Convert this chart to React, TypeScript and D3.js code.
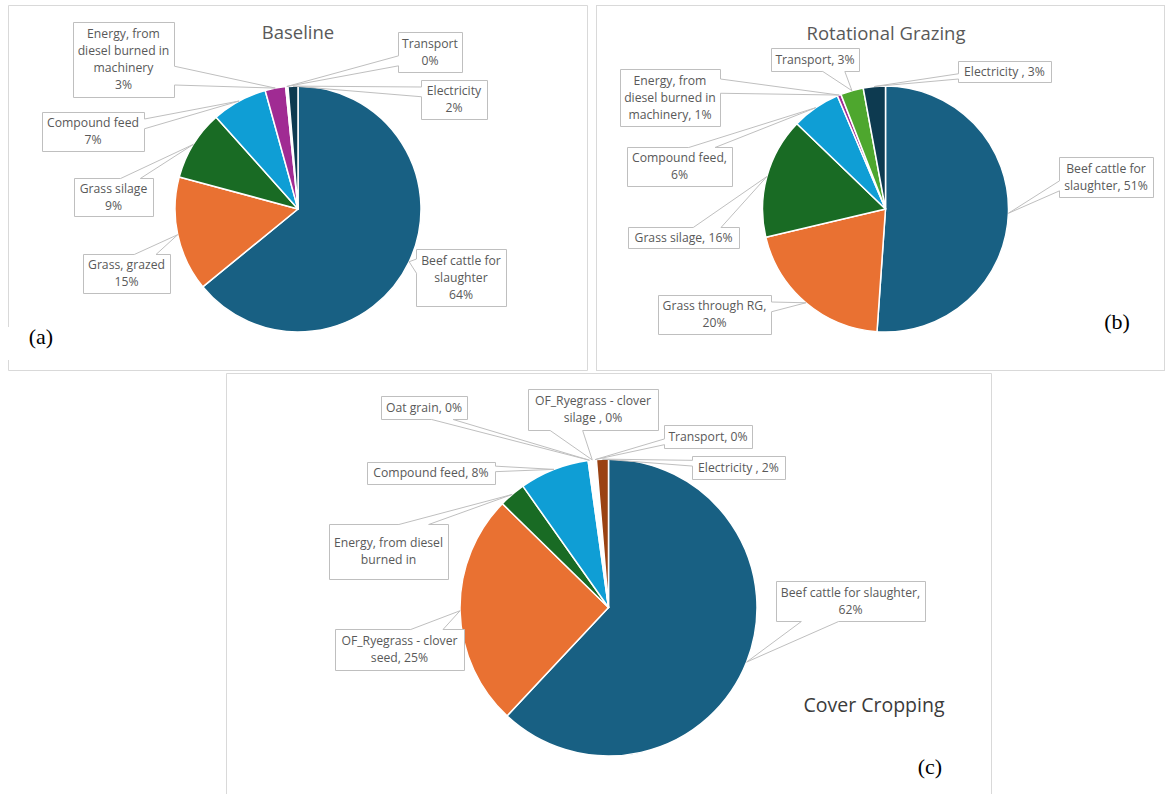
import React from "react";
import * as d3 from "d3";

// ---------------- Data ----------------
const baselineCategories = [
  "Beef cattle for slaughter",
  "Grass, grazed",
  "Grass silage",
  "Compound feed",
  "Energy, from diesel burned in machinery",
  "Transport",
  "Electricity",
];
const baselineValues = [64.1, 15.1, 9.2, 7.3, 2.7, 0.3, 1.3];
const baselinePercents = ["64%", "15%", "9%", "7%", "3%", "0%", "2%"];

const rgCategories = [
  "Beef cattle for slaughter",
  "Grass through RG",
  "Grass silage",
  "Compound feed",
  "Energy, from diesel burned in machinery",
  "Transport",
  "Electricity ",
];
const rgValues = [51.1, 20.2, 15.9, 6.4, 0.5, 3.0, 2.9];
const rgPercents = ["51%", "20%", "16%", "6%", "1%", "3%", "3%"];

const ccCategories = [
  "Beef cattle for slaughter",
  "OF_Ryegrass - clover seed",
  "Energy, from diesel burned in machinery",
  "Compound feed",
  "Oat grain",
  "OF_Ryegrass - clover silage ",
  "Transport",
  "Electricity ",
];
const ccValues = [62.1, 25.4, 2.9, 7.6, 0.3, 0.3, 0.3, 1.3];
const ccPercents = ["62%", "25%", "3%", "8%", "0%", "0%", "0%", "2%"];

// ---------------- Styles ----------------
const C_BEEF = "#186083";
const C_ORANGE = "#e97132";
const C_DKGREEN = "#196b24";
const C_LTBLUE = "#0f9ed5";
const C_PURPLE = "#a02b93";
const C_GREEN = "#4ea72e";
const C_NAVY = "#0d3a50";
const C_BROWN = "#9a4213";

const baselineColors = [C_BEEF, C_ORANGE, C_DKGREEN, C_LTBLUE, C_PURPLE, "#ffffff", C_NAVY];
const rgColors = [C_BEEF, C_ORANGE, C_DKGREEN, C_LTBLUE, C_PURPLE, C_GREEN, C_NAVY];
const ccColors = [C_BEEF, C_ORANGE, C_DKGREEN, C_LTBLUE, "#ffffff", "#ffffff", "#ffffff", C_BROWN];

const FONT = "'Open Sans', 'Noto Sans', sans-serif";
const TEXT_COLOR = "#595959";
const BOX_STROKE = "#bfbfbf";
const PANEL_STROKE = "#d9d9d9";

// ---------------- Layout (callout boxes: x, y, w, h, words per line) ----------------
type Box = { x: number; y: number; w: number; h: number; wrap: number[] };

const baselineBoxes: Box[] = [
  { x: 416, y: 249, w: 90, h: 57, wrap: [3, 1, 1] },
  { x: 83, y: 254, w: 87, h: 39, wrap: [2, 1] },
  { x: 74, y: 178, w: 79, h: 38, wrap: [2, 1] },
  { x: 42, y: 112, w: 102, h: 39, wrap: [2, 1] },
  { x: 73, y: 22, w: 101, h: 75, wrap: [2, 3, 1, 1] },
  { x: 398, y: 32, w: 64, h: 40, wrap: [1, 1] },
  { x: 421, y: 80, w: 66, h: 39, wrap: [1, 1] },
];

const rgBoxes: Box[] = [
  { x: 1059, y: 157, w: 94, h: 40, wrap: [3, 2] },
  { x: 658, y: 295, w: 113, h: 39, wrap: [3, 1] },
  { x: 628, y: 227, w: 111, h: 21, wrap: [3] },
  { x: 627, y: 147, w: 105, h: 39, wrap: [2, 1] },
  { x: 620, y: 69, w: 100, h: 57, wrap: [2, 3, 2] },
  { x: 771, y: 48, w: 88, h: 23, wrap: [2] },
  { x: 958, y: 61, w: 93, h: 21, wrap: [3] },
];

const ccBoxes: Box[] = [
  { x: 776, y: 581, w: 149, h: 40, wrap: [4, 1] },
  { x: 335, y: 629, w: 129, h: 41, wrap: [3, 2] },
  { x: 329, y: 524, w: 119, h: 55, wrap: [3, 2] },
  { x: 367, y: 462, w: 128, h: 22, wrap: [3] },
  { x: 381, y: 396, w: 86, h: 23, wrap: [3] },
  { x: 528, y: 389, w: 130, h: 41, wrap: [3, 3] },
  { x: 664, y: 425, w: 88, h: 23, wrap: [2] },
  { x: 692, y: 456, w: 93, h: 23, wrap: [3] },
];

function wrapText(text: string, wrap: number[]): string[] {
  const tokens = text.split(" ").filter((t) => t.length > 0);
  const lines: string[] = [];
  let k = 0;
  for (const n of wrap) {
    lines.push(tokens.slice(k, k + n).join(" "));
    k += n;
  }
  return lines;
}

function calloutPath(bx: number, by: number, w: number, h: number, tx: number, ty: number): string {
  const x = Math.round(bx) + 0.5;
  const y = Math.round(by) + 0.5;
  const hc = x + w / 2;
  const vc = y + h / 2;
  const dxPos = tx - hc;
  const dyPos = ty - vc;
  const inside = tx >= x && tx <= x + w && ty >= y && ty <= y + h;
  const r = x + w;
  const b = y + h;
  if (inside) return `M${x},${y}L${r},${y}L${r},${b}L${x},${b}Z`;
  const dx = (dxPos * h) / w;
  const x1 = x + (w * (dxPos > 0 ? 7 : 2)) / 12;
  const x2 = x + (w * (dxPos > 0 ? 10 : 5)) / 12;
  const y1 = y + (h * (dyPos > 0 ? 7 : 2)) / 12;
  const y2 = y + (h * (dyPos > 0 ? 10 : 5)) / 12;
  if (Math.abs(dyPos) > Math.abs(dx)) {
    if (dyPos < 0)
      return `M${x},${y}L${x1},${y}L${tx},${ty}L${x2},${y}L${r},${y}L${r},${b}L${x},${b}Z`;
    return `M${x},${y}L${r},${y}L${r},${b}L${x2},${b}L${tx},${ty}L${x1},${b}L${x},${b}Z`;
  }
  if (dxPos < 0)
    return `M${x},${y}L${r},${y}L${r},${b}L${x},${b}L${x},${y2}L${tx},${ty}L${x},${y1}Z`;
  return `M${x},${y}L${r},${y}L${r},${y1}L${tx},${ty}L${r},${y2}L${r},${b}L${x},${b}Z`;
}

type PieProps = {
  cx: number;
  cy: number;
  r: number;
  values: number[];
  colors: string[];
  categories: string[];
  percents: string[];
  sep: string;
  boxes: Box[];
};

function PieChart({ cx, cy, r, values, colors, categories, percents, sep, boxes }: PieProps) {
  const pie = d3
    .pie<number>()
    .sort(null)
    .value((d) => d);
  const arcs = pie(values);
  const arcGen = d3.arc<d3.PieArcDatum<number>>().innerRadius(0).outerRadius(r);
  const lineH = 17;
  return (
    <g>
      <g transform={`translate(${cx},${cy})`}>
        {arcs.map((a, i) => (
          <path key={i} d={arcGen(a) || ""} fill={colors[i]} stroke="#ffffff" strokeWidth={1.5} strokeLinejoin="round" />
        ))}
      </g>
      {arcs.map((a, i) => {
        const box = boxes[i];
        const mid = (a.startAngle + a.endAngle) / 2;
        const tx = cx + r * Math.sin(mid);
        const ty = cy - r * Math.cos(mid);
        const lines = wrapText(`${categories[i]}${sep}${percents[i]}`, box.wrap);
        const vc = box.y + box.h / 2;
        const hc = box.x + box.w / 2;
        return (
          <g key={"l" + i}>
            <path d={calloutPath(box.x, box.y, box.w, box.h, tx, ty)} fill="#ffffff" stroke={BOX_STROKE} strokeWidth={1} />
            <text fontFamily={FONT} fontSize={12.2} fill={TEXT_COLOR} textAnchor="middle">
              {lines.map((ln, j) => (
                <tspan key={j} x={hc} y={vc + (j - (lines.length - 1) / 2) * lineH} dy="0.36em">
                  {ln}
                </tspan>
              ))}
            </text>
          </g>
        );
      })}
    </g>
  );
}

export default function App() {
  return (
    <svg
      width={1167}
      height={794}
      viewBox="0 0 1167 794"
      style={{ position: "absolute", left: 0, top: 0, background: "#ffffff" }}
    >
      <rect x={0} y={0} width={1167} height={794} fill="#ffffff" />
      {/* Panel frames */}
      <path
        d="M8.5,327V5.5H587.5V370.5H8.5V360"
        fill="none"
        stroke={PANEL_STROKE}
        strokeWidth={1}
      />
      <rect x={596.5} y={5.5} width={568} height={365} fill="none" stroke={PANEL_STROKE} strokeWidth={1} />
      <path d="M226.5,800V373.5H991.5V800" fill="none" stroke={PANEL_STROKE} strokeWidth={1} />

      {/* (a) Baseline */}
      <text x={298} y={32} fontFamily={FONT} fontSize={18.5} fill={TEXT_COLOR} textAnchor="middle" dy="0.36em">
        Baseline
      </text>
      <PieChart
        cx={298}
        cy={209}
        r={123}
        values={baselineValues}
        colors={baselineColors}
        categories={baselineCategories}
        percents={baselinePercents}
        sep=" "
        boxes={baselineBoxes}
      />
      <text x={41} y={337} fontFamily="'Liberation Serif', 'Times New Roman', serif" fontSize={22} fill="#000" textAnchor="middle" dy="0.33em">
        (a)
      </text>

      {/* (b) Rotational Grazing */}
      <text x={886} y={33} fontFamily={FONT} fontSize={18.5} fill={TEXT_COLOR} textAnchor="middle" dy="0.36em">
        Rotational Grazing
      </text>
      <PieChart
        cx={885.5}
        cy={209}
        r={123}
        values={rgValues}
        colors={rgColors}
        categories={rgCategories}
        percents={rgPercents}
        sep=", "
        boxes={rgBoxes}
      />
      <text x={1117} y={322} fontFamily="'Liberation Serif', 'Times New Roman', serif" fontSize={22} fill="#000" textAnchor="middle" dy="0.33em">
        (b)
      </text>

      {/* (c) Cover Cropping */}
      <PieChart
        cx={608.5}
        cy={607.5}
        r={148.5}
        values={ccValues}
        colors={ccColors}
        categories={ccCategories}
        percents={ccPercents}
        sep=", "
        boxes={ccBoxes}
      />
      <text x={874} y={705} fontFamily={FONT} fontSize={19.5} fill="#3b3b3b" textAnchor="middle" dy="0.36em">
        Cover Cropping
      </text>
      <text x={930} y={767} fontFamily="'Liberation Serif', 'Times New Roman', serif" fontSize={22} fill="#000" textAnchor="middle" dy="0.33em">
        (c)
      </text>
    </svg>
  );
}
